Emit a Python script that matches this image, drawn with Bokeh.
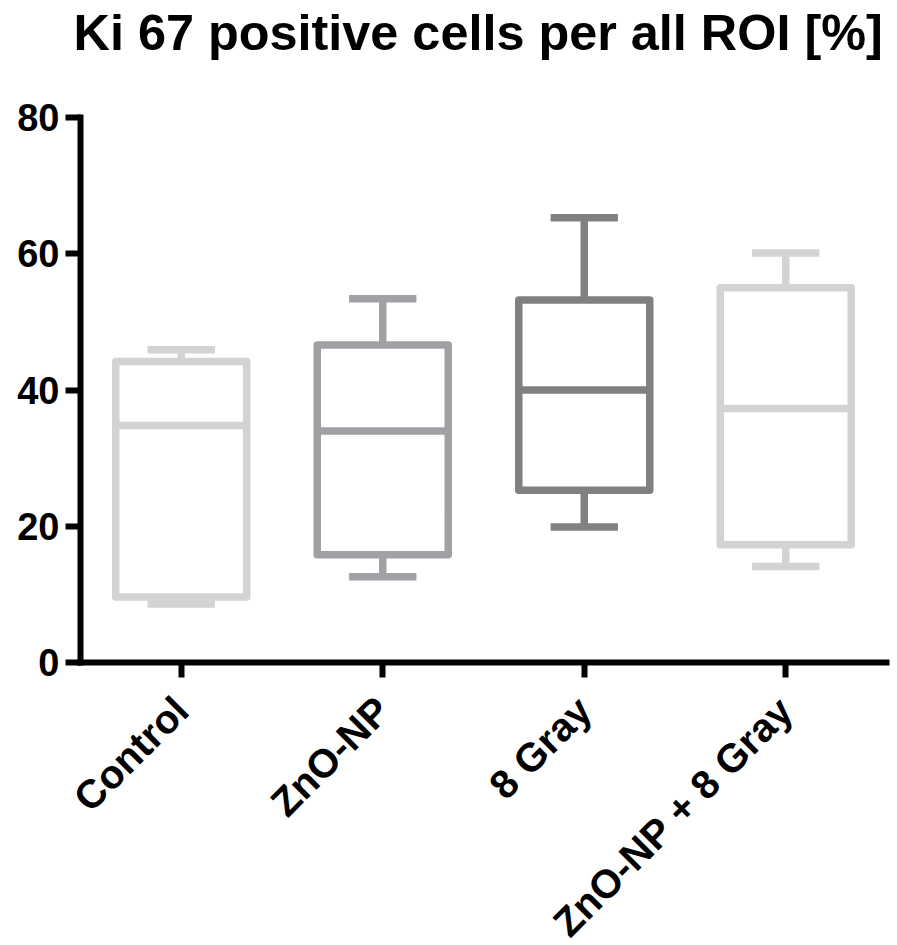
import math
from bokeh.plotting import figure
from bokeh.models import ColumnDataSource, FactorRange, Range1d, FixedTicker, Title
from bokeh.transform import dodge
from bokeh.embed import file_html
from bokeh.resources import INLINE

# Data
categories = ["Control", "ZnO-NP", "8 Gray", "ZnO-NP + 8 Gray"]
whisker_low = [8.6, 12.6, 19.9, 14.1]
q1 = [9.6, 15.8, 25.3, 17.3]
median = [34.8, 34.0, 40.0, 37.3]
q3 = [44.2, 46.6, 53.2, 55.0]
whisker_high = [45.9, 53.4, 65.3, 60.1]
colors = ["#d3d3d3", "#a1a1a5", "#808080", "#d3d3d3"]
y_ticks = [0, 20, 40, 60, 80]
title_text = "Ki 67 positive cells per all ROI [%]"

src = ColumnDataSource(dict(cats=categories, lo=whisker_low, q1=q1, q2=median,
                            q3=q3, hi=whisker_high, color=colors))

p = figure(frame_width=806, frame_height=545,
           x_range=FactorRange(*categories), y_range=Range1d(0, 80),
           output_backend="svg", toolbar_location=None,
           min_border_left=80, min_border_right=4, min_border_top=117, min_border_bottom=0)
p.title = None

LW = 7.5
BOX_W = 0.65
CAP_W = 0.334

# whisker stems
p.segment(x0="cats", y0="q3", x1="cats", y1="hi", source=src, line_color="color", line_width=LW)
p.segment(x0="cats", y0="q1", x1="cats", y1="lo", source=src, line_color="color", line_width=LW)
# caps
p.segment(x0=dodge("cats", -CAP_W / 2, range=p.x_range), y0="hi",
          x1=dodge("cats", CAP_W / 2, range=p.x_range), y1="hi",
          source=src, line_color="color", line_width=LW, line_cap="butt")
p.segment(x0=dodge("cats", -CAP_W / 2, range=p.x_range), y0="lo",
          x1=dodge("cats", CAP_W / 2, range=p.x_range), y1="lo",
          source=src, line_color="color", line_width=LW, line_cap="butt")
# boxes
p.vbar(x="cats", width=BOX_W, bottom="q1", top="q3", source=src, fill_color="white",
       line_color="color", line_width=LW, line_join="round")
# medians
p.segment(x0=dodge("cats", -BOX_W / 2, range=p.x_range), y0="q2",
          x1=dodge("cats", BOX_W / 2, range=p.x_range), y1="q2",
          source=src, line_color="color", line_width=LW, line_cap="butt")

# title: a blank spacer panel next to the frame, then the real title above it
p.add_layout(Title(text=" ", text_font_size="10px", standoff=44), "above")
p.add_layout(Title(text=title_text, text_font="Liberation Sans", text_font_style="bold",
                   text_font_size="50.4px", text_color="black", align="left",
                   offset=-7, standoff=0), "above")

# axes
p.xgrid.visible = False
p.ygrid.visible = False
p.outline_line_color = None

for ax in (p.xaxis[0], p.yaxis[0]):
    ax.axis_line_width = 6
    ax.axis_line_color = "black"
    ax.axis_line_cap = "square"
    ax.major_tick_line_width = 6
    ax.major_tick_line_color = "black"
    ax.major_tick_in = 0
    ax.major_tick_out = 15
    ax.minor_tick_line_color = None
    ax.major_label_text_font = "Liberation Sans"
    ax.major_label_text_font_style = "bold"
    ax.major_label_text_color = "black"

p.yaxis.ticker = FixedTicker(ticks=y_ticks)
p.yaxis.major_label_text_font_size = "38px"
p.yaxis.major_label_standoff = 6

p.xaxis.major_label_text_font_size = "40px"
p.xaxis.major_label_orientation = math.pi / 4
p.xaxis.major_label_standoff = 26

open("out.html", "w").write(file_html(p, INLINE))
